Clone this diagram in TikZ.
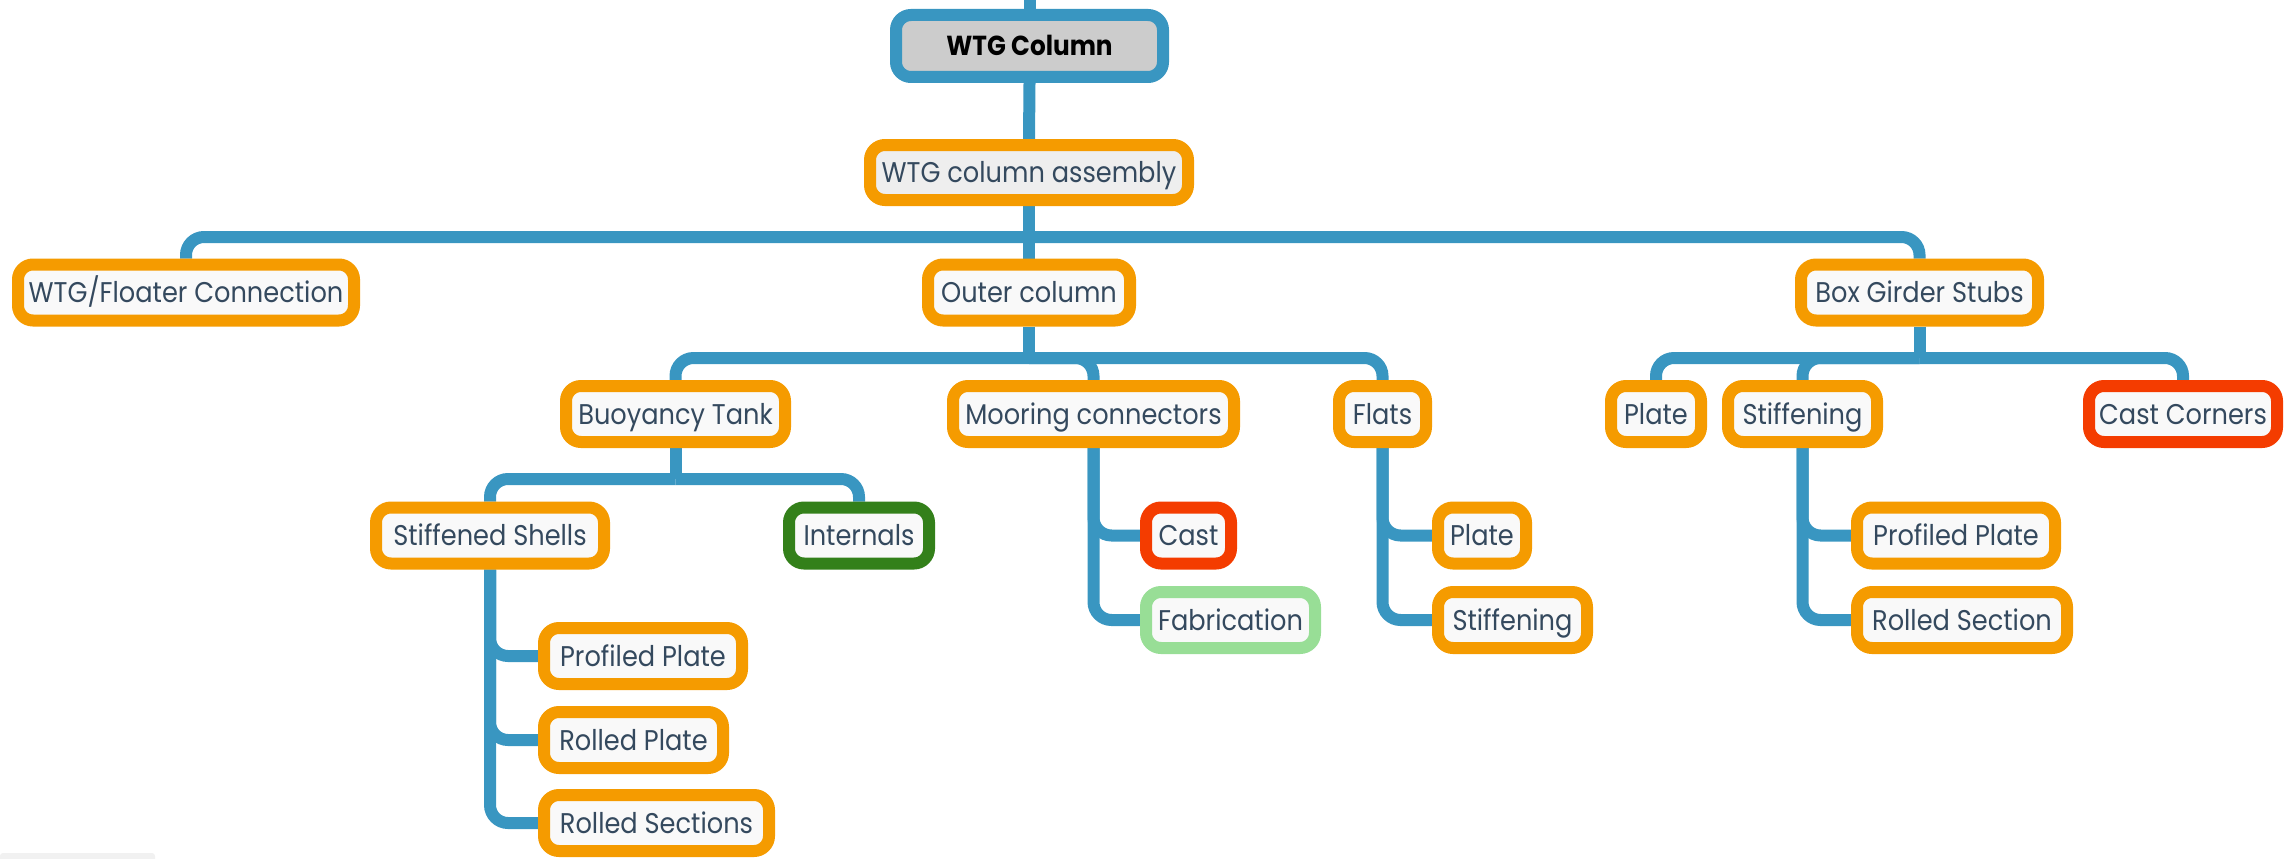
\documentclass[tikz,border=0pt]{standalone}
\usepackage{fontspec}
\setmainfont{Poppins}[FakeStretch=0.9]
\usetikzlibrary{backgrounds}
\definecolor{wirecol}{HTML}{3996C1}
\definecolor{amber}{HTML}{F59B00}
\definecolor{castred}{HTML}{F43C00}
\definecolor{darkgreen}{HTML}{33801A}
\definecolor{palegreen}{HTML}{98DE96}
\definecolor{ink}{HTML}{34495E}
\definecolor{boxfill}{HTML}{F9F9F9}
\definecolor{rootfill}{HTML}{CCCCCC}
\definecolor{asmfill}{HTML}{EEEEEE}
\definecolor{scrollgrey}{HTML}{F1F1F1}
\tikzset{
  box/.style={draw=amber, line width=12pt, rounded corners=15pt, fill=boxfill,
    text=ink, inner sep=0pt, minimum height=56pt, text height=20pt, text depth=0pt,
    font=\fontsize{28.5}{32}\selectfont},
  redbox/.style={box, draw=castred},
  greenbox/.style={box, draw=darkgreen},
  palebox/.style={box, draw=palegreen},
  wire/.style={draw=wirecol, line width=12pt, rounded corners=18pt},
}
\begin{document}
\begin{tikzpicture}[x=1pt,y=-1pt]
\useasboundingbox (0,0) rectangle (2292,859);
\fill[scrollgrey, rounded corners=3pt] (0,853) rectangle (155,862);

% top levels
\node[box, draw=wirecol, fill=rootfill, text=black, minimum width=267pt, minimum height=62pt,
  font=\fontsize{27.5}{32}\selectfont\bfseries] (col) at (1029.5,46) {WTG Column};
\node[box, fill=asmfill, minimum width=318pt, minimum height=55pt] (asm) at (1029,172.5) {WTG column assembly};

% second level
\node[box, minimum width=336pt] (floater) at (186,292.5) {WTG/Floater Connection};
\node[box, minimum width=202pt] (outer) at (1029,292.5) {Outer column};
\node[box, minimum width=237pt] (girder) at (1919.5,292.5) {Box Girder Stubs};

% third level
\node[box, minimum width=219pt] (tank) at (675.5,414) {Buoyancy Tank};
\node[box, minimum width=281pt] (moor) at (1093.5,414) {Mooring connectors};
\node[box, minimum width=87pt] (flats) at (1382.5,414) {Flats};
\node[box, minimum width=90pt] (gplate) at (1656,414) {Plate};
\node[box, minimum width=149pt] (gstiff) at (1802.5,414) {Stiffening};
\node[redbox, minimum width=188pt] (corners) at (2183,414) {Cast Corners};

% fourth level
\node[box, minimum width=228pt] (shells) at (490,535.5) {Stiffened Shells};
\node[greenbox, minimum width=140pt] (internals) at (859,535.5) {Internals};
\node[redbox, minimum width=85pt] (cast) at (1188.5,535.5) {Cast};
\node[box, minimum width=88pt] (fplate) at (1482,535.5) {Plate};
\node[box, minimum width=198pt] (gprof) at (1956,535.5) {Profiled Plate};
\node[palebox, minimum width=169pt] (fab) at (1230.5,620) {Fabrication};
\node[box, minimum width=149pt] (fstiff) at (1512.5,620) {Stiffening};
\node[box, minimum width=210pt] (groll) at (1962,620) {Rolled Section};

% shell parts
\node[box, minimum width=198pt] (sprof) at (643,656) {Profiled Plate};
\node[box, minimum width=179pt] (splate) at (633.5,740) {Rolled Plate};
\node[box, minimum width=225pt] (ssect) at (656.5,823) {Rolled Sections};

% connectors
\begin{scope}[on background layer]
  \coordinate (stub) at (col.north |- 0,0);
  \draw[wire] (col.north) -- (stub);
  \draw[wire] (col.south) -- (asm.north);

  \coordinate (asmbus) at (asm.south |- 0,237);
  \draw[wire] (asm.south) -- (outer.north);
  \draw[wire] (asmbus) -| (floater.north);
  \draw[wire] (asmbus) -| (girder.north);

  \coordinate (outerbus) at (outer.south |- 0,358);
  \draw[wire] (outer.south) -- (outerbus);
  \draw[wire] (outerbus) -| (tank.north);
  \draw[wire] (outerbus) -| (moor.north);
  \draw[wire] (outerbus) -| (flats.north);

  \coordinate (girderbus) at (girder.south |- 0,358);
  \draw[wire] (girder.south) -- (girderbus);
  \draw[wire] (girderbus) -| (gplate.north);
  \draw[wire] (girderbus) -| (gstiff.north);
  \draw[wire] (girderbus) -| (corners.north);

  \coordinate (tankbus) at (tank.south |- 0,479);
  \draw[wire] (tank.south) -- (tankbus);
  \draw[wire] (tankbus) -| (shells.north);
  \draw[wire] (tankbus) -| (internals.north);

  \draw[wire] (shells.south) |- (sprof.west);
  \draw[wire] (shells.south) |- (splate.west);
  \draw[wire] (shells.south) |- (ssect.west);

  \draw[wire] (moor.south) |- (cast.west);
  \draw[wire] (moor.south) |- (fab.west);

  \draw[wire] (flats.south) |- (fplate.west);
  \draw[wire] (flats.south) |- (fstiff.west);

  \draw[wire] (gstiff.south) |- (gprof.west);
  \draw[wire] (gstiff.south) |- (groll.west);
\end{scope}
\end{tikzpicture}
\end{document}
